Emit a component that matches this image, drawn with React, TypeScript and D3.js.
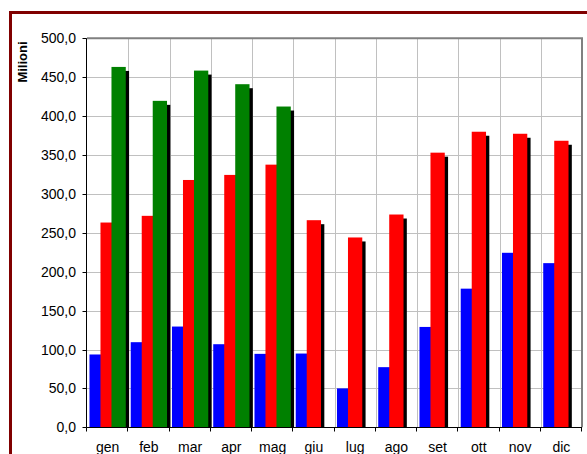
// Monthly bars (Milioni) - three series with Excel-like drop shadows
import React, { useEffect, useRef } from 'react'
import * as d3 from 'd3'

const months = ['gen', 'feb', 'mar', 'apr', 'mag', 'giu', 'lug', 'ago', 'set', 'ott', 'nov', 'dic']
const blueValues = [93.6, 109.4, 129.5, 106.8, 94.4, 94.8, 50.0, 77.3, 129.0, 178.2, 224.3, 211.0]
const redValues = [263.2, 271.8, 317.9, 324.4, 337.6, 266.2, 244.0, 273.5, 353.0, 379.9, 377.3, 368.3]
const greenValues = [463.2, 419.6, 458.5, 441.0, 412.3, null, null, null, null, null, null, null]
const yTicks = [0, 50, 100, 150, 200, 250, 300, 350, 400, 450, 500]
const yTitle = 'Milioni'

export default function App() {
  const ref = useRef<SVGSVGElement>(null)

  useEffect(() => {
    const W = 587
    const H = 454
    const left = 87
    const right = 582
    const top = 38.3
    const bottom = 427.3
    const font = 'Liberation Sans, Arial, sans-serif'

    const svg = d3.select(ref.current)
    svg.selectAll('*').remove()

    svg.append('rect').attr('width', W).attr('height', H).attr('fill', 'white')

    // outer chart border (runs off the page on right and bottom)
    svg
      .append('rect')
      .attr('x', 10.5)
      .attr('y', 12.5)
      .attr('width', 700)
      .attr('height', 600)
      .attr('fill', 'none')
      .attr('stroke', '#800000')
      .attr('stroke-width', 3)

    const x = d3.scaleBand<string>().domain(months).range([left, right]).padding(0)
    const y = d3.scaleLinear().domain([0, 500]).range([bottom, top])

    // gridlines
    svg
      .append('g')
      .selectAll('line')
      .data(yTicks.filter((t) => t > 0))
      .join('line')
      .attr('x1', left)
      .attr('x2', right)
      .attr('y1', (d) => Math.round(y(d)) + 0.5)
      .attr('y2', (d) => Math.round(y(d)) + 0.5)
      .attr('stroke', '#c0c0c0')
    svg
      .append('g')
      .selectAll('line')
      .data(months.slice(1))
      .join('line')
      .attr('x1', (d) => Math.round(x(d)!) + 0.5)
      .attr('x2', (d) => Math.round(x(d)!) + 0.5)
      .attr('y1', top)
      .attr('y2', bottom)
      .attr('stroke', '#c0c0c0')

    // plot area border (top + right)
    svg
      .append('path')
      .attr('d', `M${left},${top} H${right} V${bottom}`)
      .attr('fill', 'none')
      .attr('stroke', '#808080')
      .attr('stroke-width', 2)

    // bars: each series drawn with its shadow, later series cover earlier ones
    const bw = x.bandwidth()
    const barW = 14.3
    const step = 11
    const offset = (bw - (2 * step + barW)) / 2
    const shadowDx = 3.3
    const shadowDy = 4

    const series = [
      { values: blueValues, color: '#0000ff' },
      { values: redValues, color: '#ff0000' },
      { values: greenValues, color: '#008000' },
    ]

    series.forEach((s, si) => {
      const data = months
        .map((m, i) => ({ m, v: s.values[i] }))
        .filter((d) => d.v != null) as { m: string; v: number }[]
      const g = svg.append('g')
      g.selectAll('rect.shadow')
        .data(data)
        .join('rect')
        .attr('class', 'shadow')
        .attr('x', (d) => x(d.m)! + offset + si * step + shadowDx)
        .attr('y', (d) => y(d.v) + shadowDy)
        .attr('width', barW)
        .attr('height', (d) => bottom - y(d.v) - shadowDy)
        .attr('fill', 'black')
      g.selectAll('rect.bar')
        .data(data)
        .join('rect')
        .attr('class', 'bar')
        .attr('x', (d) => x(d.m)! + offset + si * step)
        .attr('y', (d) => y(d.v))
        .attr('width', barW)
        .attr('height', (d) => bottom - y(d.v))
        .attr('fill', s.color)
    })

    // y axis
    const fmt = d3.formatLocale({ decimal: ',', thousands: '.', grouping: [3], currency: ['', '€'] }).format('.1f')
    const yAxis = svg.append('g')
    yAxis
      .append('line')
      .attr('x1', left - 0.5)
      .attr('x2', left - 0.5)
      .attr('y1', top)
      .attr('y2', bottom)
      .attr('stroke', 'black')
    yAxis
      .selectAll('line.tick')
      .data(yTicks)
      .join('line')
      .attr('class', 'tick')
      .attr('x1', left - 4.5)
      .attr('x2', left - 0.5)
      .attr('y1', (d) => Math.round(y(d)) + 0.5)
      .attr('y2', (d) => Math.round(y(d)) + 0.5)
      .attr('stroke', 'black')
    yAxis
      .selectAll('text')
      .data(yTicks)
      .join('text')
      .attr('x', 76)
      .attr('y', (d) => y(d) + 5)
      .attr('text-anchor', 'end')
      .style('font-family', font)
      .style('font-size', '14px')
      .attr('fill', 'black')
      .text((d) => fmt(d))

    // x axis
    const xAxis = svg.append('g')
    xAxis
      .append('line')
      .attr('x1', left - 0.5)
      .attr('x2', right)
      .attr('y1', Math.round(bottom) + 0.5)
      .attr('y2', Math.round(bottom) + 0.5)
      .attr('stroke', 'black')
    xAxis
      .selectAll('line.tick')
      .data([...months.map((m) => x(m)!), right])
      .join('line')
      .attr('class', 'tick')
      .attr('x1', (d) => Math.round(d) - 0.5)
      .attr('x2', (d) => Math.round(d) - 0.5)
      .attr('y1', Math.round(bottom) + 0.5)
      .attr('y2', Math.round(bottom) + 4.5)
      .attr('stroke', 'black')
    xAxis
      .selectAll('text')
      .data(months)
      .join('text')
      .attr('x', (d) => x(d)! + bw / 2)
      .attr('y', 451.5)
      .attr('text-anchor', 'middle')
      .style('font-family', font)
      .style('font-size', '14px')
      .attr('fill', 'black')
      .text((d) => d)

    // axis title
    svg
      .append('text')
      .attr('transform', 'translate(26.5,62) rotate(-90)')
      .attr('text-anchor', 'middle')
      .style('font-family', font)
      .style('font-size', '13px')
      .style('font-weight', 'bold')
      .attr('fill', 'black')
      .text(yTitle)
  }, [])

  return (
    <svg
      ref={ref}
      width={587}
      height={454}
      style={{ position: 'absolute', left: 0, top: 0, display: 'block' }}
    />
  )
}
